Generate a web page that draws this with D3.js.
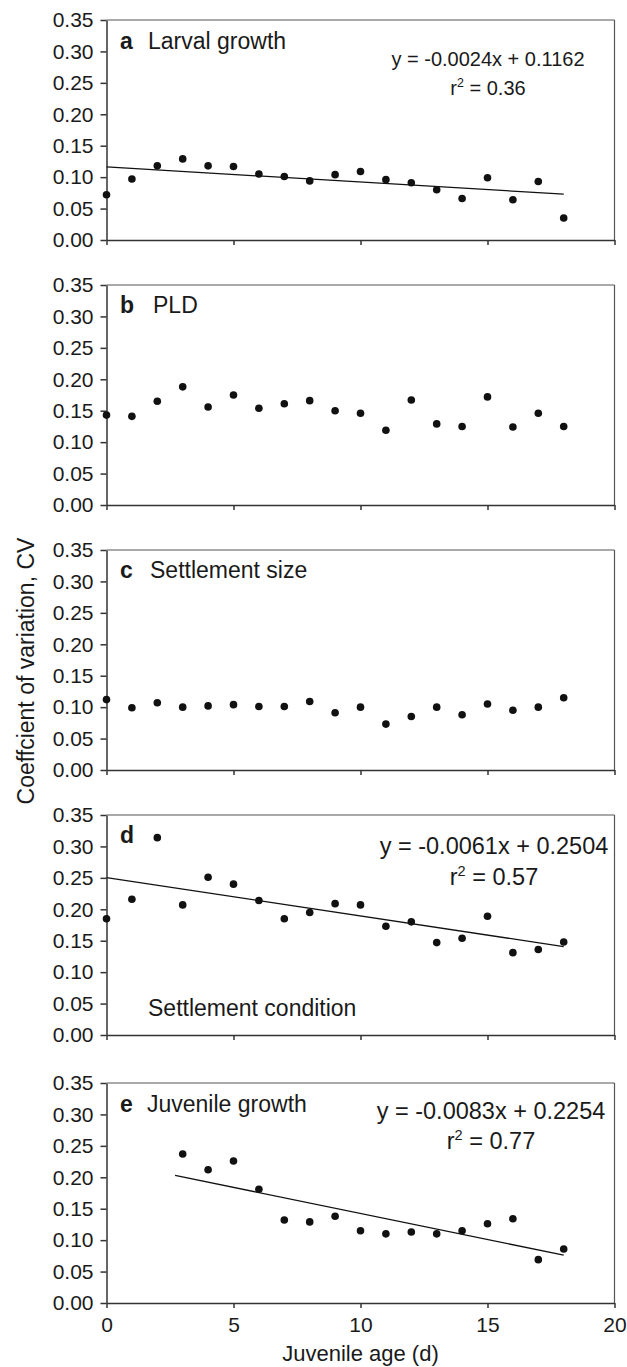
<!DOCTYPE html>
<html>
<head>
<meta charset="utf-8">
<script src="https://cdn.jsdelivr.net/npm/d3@7"></script>
<style>
    body { margin: 0; background: #fff; }
    svg text { font-family: "Liberation Sans", Arial, Helvetica, sans-serif; fill: #1a1a1a; }
    .axis .domain, .axis line { stroke: #333; stroke-width: 1.5; }
    .border { stroke: #555; stroke-width: 1.2; }
</style>
</head>
<body>
<div id="chart"></div>
<script>
// *************** data ***************
const days = [0, 1, 2, 3, 4, 5, 6, 7, 8, 9, 10, 11, 12, 13, 14, 15, 16, 17, 18];
const juvenileDays = [3, 4, 5, 6, 7, 8, 9, 10, 11, 12, 13, 14, 15, 16, 17, 18];

const larvalGrowth = [0.072, 0.097, 0.118, 0.129, 0.118, 0.117, 0.105, 0.101, 0.094, 0.104,
    0.109, 0.096, 0.091, 0.080, 0.066, 0.099, 0.064, 0.093, 0.035];
const pld = [0.143, 0.141, 0.165, 0.188, 0.156, 0.175, 0.154, 0.161, 0.166, 0.150,
    0.146, 0.119, 0.167, 0.129, 0.125, 0.172, 0.124, 0.146, 0.125];
const settlementSize = [0.112, 0.099, 0.107, 0.100, 0.102, 0.104, 0.101, 0.101, 0.109, 0.091,
    0.100, 0.073, 0.085, 0.100, 0.088, 0.105, 0.095, 0.100, 0.115];
const settlementCondition = [0.185, 0.216, 0.314, 0.207, 0.251, 0.240, 0.214, 0.185, 0.195, 0.209,
    0.207, 0.173, 0.180, 0.147, 0.154, 0.189, 0.131, 0.136, 0.148];
const juvenileGrowth = [0.237, 0.212, 0.226, 0.181, 0.132, 0.129, 0.138, 0.115, 0.110, 0.113,
    0.110, 0.115, 0.126, 0.134, 0.069, 0.086];

// regression: [slope, intercept, xStart, xEnd]
const fitA = [-0.0024, 0.1162, 0, 18];
const fitD = [-0.0061, 0.2504, 0, 18];
const fitE = [-0.0083, 0.2254, 2.7, 18];

const xTicks = [0, 5, 10, 15, 20];
const yTicks = [0, 0.05, 0.10, 0.15, 0.20, 0.25, 0.30, 0.35];

const panels = [
    { letter: 'a', name: 'Larval growth', xs: days, ys: larvalGrowth, fit: fitA, eq: 'y = -0.0024x + 0.1162', r2: '0.36' },
    { letter: 'b', name: 'PLD', xs: days, ys: pld },
    { letter: 'c', name: 'Settlement size', xs: days, ys: settlementSize },
    { letter: 'd', name: 'Settlement condition', xs: days, ys: settlementCondition, fit: fitD, eq: 'y = -0.0061x + 0.2504', r2: '0.57' },
    { letter: 'e', name: 'Juvenile growth', xs: juvenileDays, ys: juvenileGrowth, fit: fitE, eq: 'y = -0.0083x + 0.2254', r2: '0.77' }
];

// *************** layout ***************
const width = 627;
const height = 1367;
const left = 106.5;
const right = 614.5;
const panelTops = [20, 285, 550, 815, 1083];
const panelH = 220;
// per panel text layout: name position, equation centre / baselines, equation font size
const textLayout = [
    { nameX: 148, nameY: 29, eqX: 488, eqY: 46, r2Y: 75, eqSize: 20 },
    { nameX: 153, nameY: 28 },
    { nameX: 150, nameY: 28 },
    { nameX: 148, nameY: 201, eqX: 494, eqY: 39, r2Y: 70, eqSize: 23.5 },
    { nameX: 147, nameY: 29, eqX: 491, eqY: 36, r2Y: 66, eqSize: 23.5 }
];

const svg = d3.select('#chart').append('svg')
    .attr('width', width)
    .attr('height', height);

const xScale = d3.scaleLinear().domain([0, 20]).range([left, right]);

panels.forEach((p, i) => {
    const top = panelTops[i];
    const bottom = top + panelH;
    const lay = textLayout[i];
    const yScale = d3.scaleLinear().domain([0, 0.35]).range([bottom, top]);
    const g = svg.append('g').attr('class', 'panel');

    // top / right frame
    g.append('line').attr('class', 'border')
        .attr('x1', left).attr('x2', right).attr('y1', top).attr('y2', top);
    g.append('line').attr('class', 'border')
        .attr('x1', right).attr('x2', right).attr('y1', top).attr('y2', bottom);

    // axes
    const yAxis = d3.axisLeft(yScale)
        .tickValues(yTicks)
        .tickSize(6)
        .tickSizeOuter(0)
        .tickPadding(7)
        .tickFormat(d3.format('.2f'));
    g.append('g')
        .attr('class', 'axis')
        .attr('transform', `translate(${left},0)`)
        .call(yAxis)
        .selectAll('text')
        .style('font-size', '21px');

    const last = i === panels.length - 1;
    const xAxis = d3.axisBottom(xScale)
        .tickValues(xTicks)
        .tickSize(5)
        .tickSizeOuter(0)
        .tickPadding(9)
        .tickFormat(last ? d3.format('d') : '');
    g.append('g')
        .attr('class', 'axis')
        .attr('transform', `translate(0,${bottom})`)
        .call(xAxis)
        .selectAll('text')
        .style('font-size', '21px');

    // regression line
    if (p.fit) {
        const [m, b, x0, x1] = p.fit;
        g.append('line')
            .attr('x1', xScale(x0)).attr('y1', yScale(m * x0 + b))
            .attr('x2', xScale(x1)).attr('y2', yScale(m * x1 + b))
            .attr('stroke', '#111')
            .attr('stroke-width', 1.3);
    }

    // points
    g.selectAll('.dot')
        .data(p.xs.map((x, k) => [x, p.ys[k]]))
        .enter()
        .append('circle')
        .attr('class', 'dot')
        .attr('cx', (d) => xScale(d[0]))
        .attr('cy', (d) => yScale(d[1]))
        .attr('r', 3.8)
        .attr('fill', '#111');

    // panel letter + name
    g.append('text')
        .attr('x', 120)
        .attr('y', top + (i === 3 ? 28 : lay.nameY))
        .style('font-size', '23px')
        .style('font-weight', 'bold')
        .text(p.letter);
    g.append('text')
        .attr('x', lay.nameX)
        .attr('y', top + lay.nameY)
        .style('font-size', '23px')
        .text(p.name);

    // equation
    if (p.eq) {
        g.append('text')
            .attr('x', lay.eqX)
            .attr('y', top + lay.eqY)
            .attr('text-anchor', 'middle')
            .style('font-size', lay.eqSize + 'px')
            .text(p.eq);
        const r2 = g.append('text')
            .attr('x', lay.eqX)
            .attr('y', top + lay.r2Y)
            .attr('text-anchor', 'middle')
            .style('font-size', lay.eqSize + 'px');
        r2.append('tspan').text('r');
        r2.append('tspan').attr('dy', -lay.eqSize * 0.4).style('font-size', (lay.eqSize * 0.62) + 'px').text('2');
        r2.append('tspan').attr('dy', lay.eqSize * 0.4).text(' = ' + p.r2);
    }
});

// axis titles
svg.append('text')
    .attr('transform', 'translate(34,671) rotate(-90)')
    .attr('text-anchor', 'middle')
    .style('font-size', '23px')
    .text('Coeffcient of variation, CV');

svg.append('text')
    .attr('x', (left + right) / 2)
    .attr('y', 1361)
    .attr('text-anchor', 'middle')
    .style('font-size', '22px')
    .text('Juvenile age (d)');
</script>
</body>
</html>
